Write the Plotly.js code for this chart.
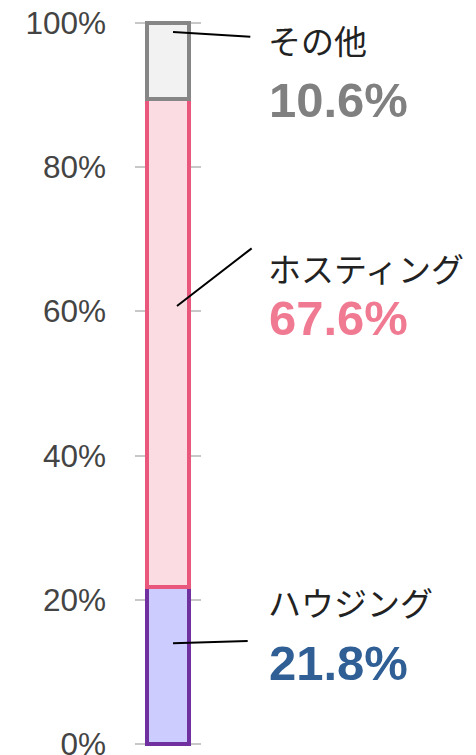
<!DOCTYPE html>
<html>
<head>
<meta charset="utf-8">
<script src="https://cdn.plot.ly/plotly-3.0.1.min.js"></script>
<style>html,body{margin:0;padding:0;background:#fff;}#chart{width:476px;height:755px;}</style>
</head>
<body>
<div id="chart"></div>
<script>
const categories = ['ハウジング', 'ホスティング', 'その他'];
const values = [21.8, 67.6, 10.6];
const valueLabels = ['21.8%', '67.6%', '10.6%'];
const fillColors = ['#ccccff', '#fbdce3', '#f2f2f2'];
const lineColors = ['#7030a0', '#e9577c', '#868686'];
const labelColors = ['#2f5f95', '#f07a91', '#808080'];
const tickVals = [0, 20, 40, 60, 80, 100];
const tickText = ['0%', '20%', '40%', '60%', '80%', '100%'];

const traces = categories.map((c, i) => ({
  type: 'bar',
  name: c,
  x: [0],
  y: [values[i]],
  width: 0.64,
  marker: {color: fillColors[i], line: {color: lineColors[i], width: 4}},
  hoverinfo: 'skip'
}));

// leader lines: [point x, point y, tail x, tail y] in data units
const leaders = [
  [0.076, 14.0, 1.23, 14.3],
  [0.136, 60.75, 1.29, 68.9],
  [0.076, 98.75, 1.27, 98.06]
];
// label positions (paper coords of the axis domain)
const nameY = [0.199, 0.659, 0.972];
const valY = [0.115, 0.590, 0.890];

const annotations = [];
leaders.forEach(l => {
  annotations.push({
    x: l[0], y: l[1], xref: 'x', yref: 'y',
    ax: l[2], ay: l[3], axref: 'x', ayref: 'y',
    text: '', showarrow: true, arrowhead: 0, arrowwidth: 2, arrowcolor: '#000',
    standoff: 0, startstandoff: 0
  });
});
categories.forEach((c, i) => {
  annotations.push({
    x: 1.98, y: nameY[i], xref: 'paper', yref: 'y domain', xanchor: 'left', yanchor: 'middle',
    text: c, showarrow: false,
    font: {family: '"Noto Sans CJK JP", sans-serif', size: 33, color: '#222'}
  });
  annotations.push({
    x: 2.0, y: valY[i], xref: 'paper', yref: 'y domain', xanchor: 'left', yanchor: 'middle',
    text: '<b>' + valueLabels[i] + '</b>', showarrow: false,
    font: {family: '"Liberation Sans", Arial, sans-serif', size: 49, color: labelColors[i]}
  });
});

// y range padded slightly so the 0% and 100% gridlines and bar border show
const pad = 0.4;
const pxPerUnit = 7.21;
const layout = {
  width: 476, height: 755,
  margin: {l: 135, r: 275, t: 23 - pad * pxPerUnit, b: 11 - pad * pxPerUnit},
  paper_bgcolor: '#fff', plot_bgcolor: 'rgba(0,0,0,0)',
  barmode: 'stack',
  showlegend: false,
  xaxis: {range: [-0.5, 0.5], showticklabels: false, showgrid: false, zeroline: false, fixedrange: true},
  yaxis: {
    range: [-pad, 100 + pad], tickvals: tickVals, ticktext: tickText,
    showgrid: true, gridcolor: '#c8c8c8', gridwidth: 2, zeroline: false,
    ticklabelstandoff: 28, ticklabeloverflow: 'allow',
    tickfont: {family: '"Liberation Sans", Arial, sans-serif', size: 31.5, color: '#444'}
  },
  annotations: annotations
};

Plotly.newPlot('chart', traces, layout, {staticPlot: true, displayModeBar: false});
</script>
</body>
</html>
